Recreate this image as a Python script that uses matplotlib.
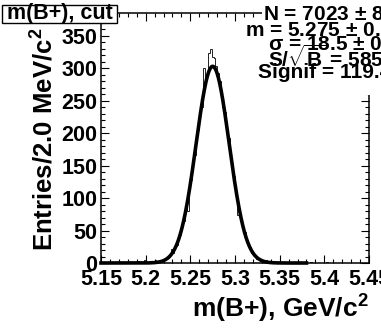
import numpy as np
import matplotlib
matplotlib.use("Agg")
import matplotlib.pyplot as plt
from matplotlib.patches import Rectangle

plt.rcParams['font.family'] = ['Liberation Sans', 'DejaVu Sans']
plt.rcParams['font.weight'] = 'bold'
plt.rcParams['axes.labelweight'] = 'bold'
plt.rcParams['mathtext.fontset'] = 'custom'
plt.rcParams['mathtext.rm'] = 'Liberation Sans:bold'
plt.rcParams['mathtext.bf'] = 'Liberation Sans:bold'
plt.rcParams['mathtext.it'] = 'Liberation Sans:bold'
plt.rcParams['mathtext.default'] = 'rm'

# B+ candidate mass, 2 MeV bins from 5.15 to 5.45 GeV
mass_lo, mass_hi, bin_w = 5.15, 5.45, 0.002
counts = [
    0, 0, 1, 0, 0, 1, 0, 0, 0, 1, 0, 1, 0, 0, 1, 0, 1, 0, 2, 1,
    3, 1, 2, 0, 4, 2, 1, 2, 3, 2, 4, 3, 2, 5, 3, 4, 7, 8, 12, 21,
    16, 24, 27, 40, 43, 58, 65, 84, 80, 116,
    128, 153, 166, 192, 205, 232, 241, 300, 279, 290, 324, 330,
    318, 316,
    303, 292, 281, 266, 241, 232, 204, 192, 165, 153,
    134, 108, 74, 84, 70, 54, 48, 35, 27, 24,
    16, 12, 11, 6, 7, 3, 5, 2, 4, 1,
    1, 0, 1, 0, 0, 1, 0, 0, 0, 0, 1, 0, 0, 0, 0, 0, 1, 0, 0, 0,
    0, 0, 0, 1, 0, 0, 0, 0, 0, 0, 0, 0, 1, 0, 0, 0, 0, 0, 0, 0,
    0, 0, 0, 0, 0, 0, 0, 0, 0, 0, 0, 0, 0, 0, 0, 0,
]

# gaussian fit result
fit_n = 7023
fit_m = 5.275
fit_sigma = 18.5  # MeV
fit_lo, fit_hi = 5.15, 5.38

stats_lines = [
    r"N = 7023 $\pm$ 84",
    r"m = 5.275 $\pm$ 0.000",
    r"σ = 18.5 $\pm$ 0.2",
    r"S/$\sqrt{\mathrm{B}}$ = 585.3",
    r"Signif = 119.4",
]
stats_x = [263, 245, 268, 268, 258]   # pixel left edges
stats_y = [15, 30, 44, 58, 72]

W, H = 381, 330
fig = plt.figure(figsize=(W / 100, H / 100), dpi=100)
ax = fig.add_axes([101 / W, 1 - 263 / H, 268 / W, 250 / H])

edges = mass_lo + bin_w * np.arange(len(counts) + 1)
ax.stairs(counts, edges, color='black', linewidth=0.6)

xf = np.linspace(fit_lo, fit_hi, 600)
sig = fit_sigma / 1000.0
amp = fit_n * bin_w / (sig * np.sqrt(2 * np.pi))
ax.plot(xf, amp * np.exp(-0.5 * ((xf - fit_m) / sig) ** 2),
        color='black', linewidth=2.6, clip_on=False, zorder=3)

ax.set_xlim(mass_lo, mass_hi)
ax.set_ylim(0, 385)
ax.set_xticks(np.arange(5.15, 5.451, 0.05))
ax.set_xticklabels(["5.15", "5.2", "5.25", "5.3", "5.35", "5.4", "5.45"])
ax.set_xticks(np.arange(5.15, 5.451, 0.01), minor=True)
ax.set_yticks(np.arange(0, 351, 50))
ax.set_yticklabels([str(v) for v in range(0, 351, 50)])
ax.set_yticks(np.arange(0, 381, 10), minor=True)

ax.tick_params(which='both', direction='in', top=True, right=True,
               width=0.8, labelsize=15.5)
ax.tick_params(which='major', length=6)
ax.tick_params(axis='x', which='major', pad=4)
ax.tick_params(axis='y', which='major', pad=2.5)
ax.tick_params(which='minor', length=3.2)
for lbl in ax.get_xticklabels() + ax.get_yticklabels():
    lbl.set_fontweight('bold')
for sp in ax.spines.values():
    sp.set_linewidth(1.1)

ax.set_xlabel(r"m(B+), GeV/c$^2$", fontsize=19, loc='right',
              fontweight='bold')
ax.xaxis.set_label_coords(1.0, -0.182)
ax.xaxis.label.set_va('center')
ax.set_ylabel(r"Entries/2.0 MeV/c$^2$", fontsize=18.5, loc='top',
              fontweight='bold')
ax.yaxis.set_label_coords(-0.212, 0.94)
ax.yaxis.label.set_va('center')

# stats pave covering the upper right corner
fig.patches.append(Rectangle((262 / W, 1 - 95 / H), 130 / W, 95 / H,
                             transform=fig.transFigure, facecolor='white',
                             edgecolor='none', zorder=5))
for s, x, y in zip(stats_lines, stats_x, stats_y):
    fig.text(x / W, 1 - y / H, s, fontsize=15, ha='left', va='center',
             fontweight='bold', zorder=6)

# title box
fig.patches.append(Rectangle((2 / W, 1 - 23 / H), 115 / W, 18 / H,
                             transform=fig.transFigure, facecolor='white',
                             edgecolor='black', linewidth=1.0, zorder=5))
fig.text(59.5 / W, 1 - 14 / H, "m(B+), cut", fontsize=15.5, ha='center',
         va='center', fontweight='bold', zorder=6)

fig.savefig("out.png", dpi=100)
